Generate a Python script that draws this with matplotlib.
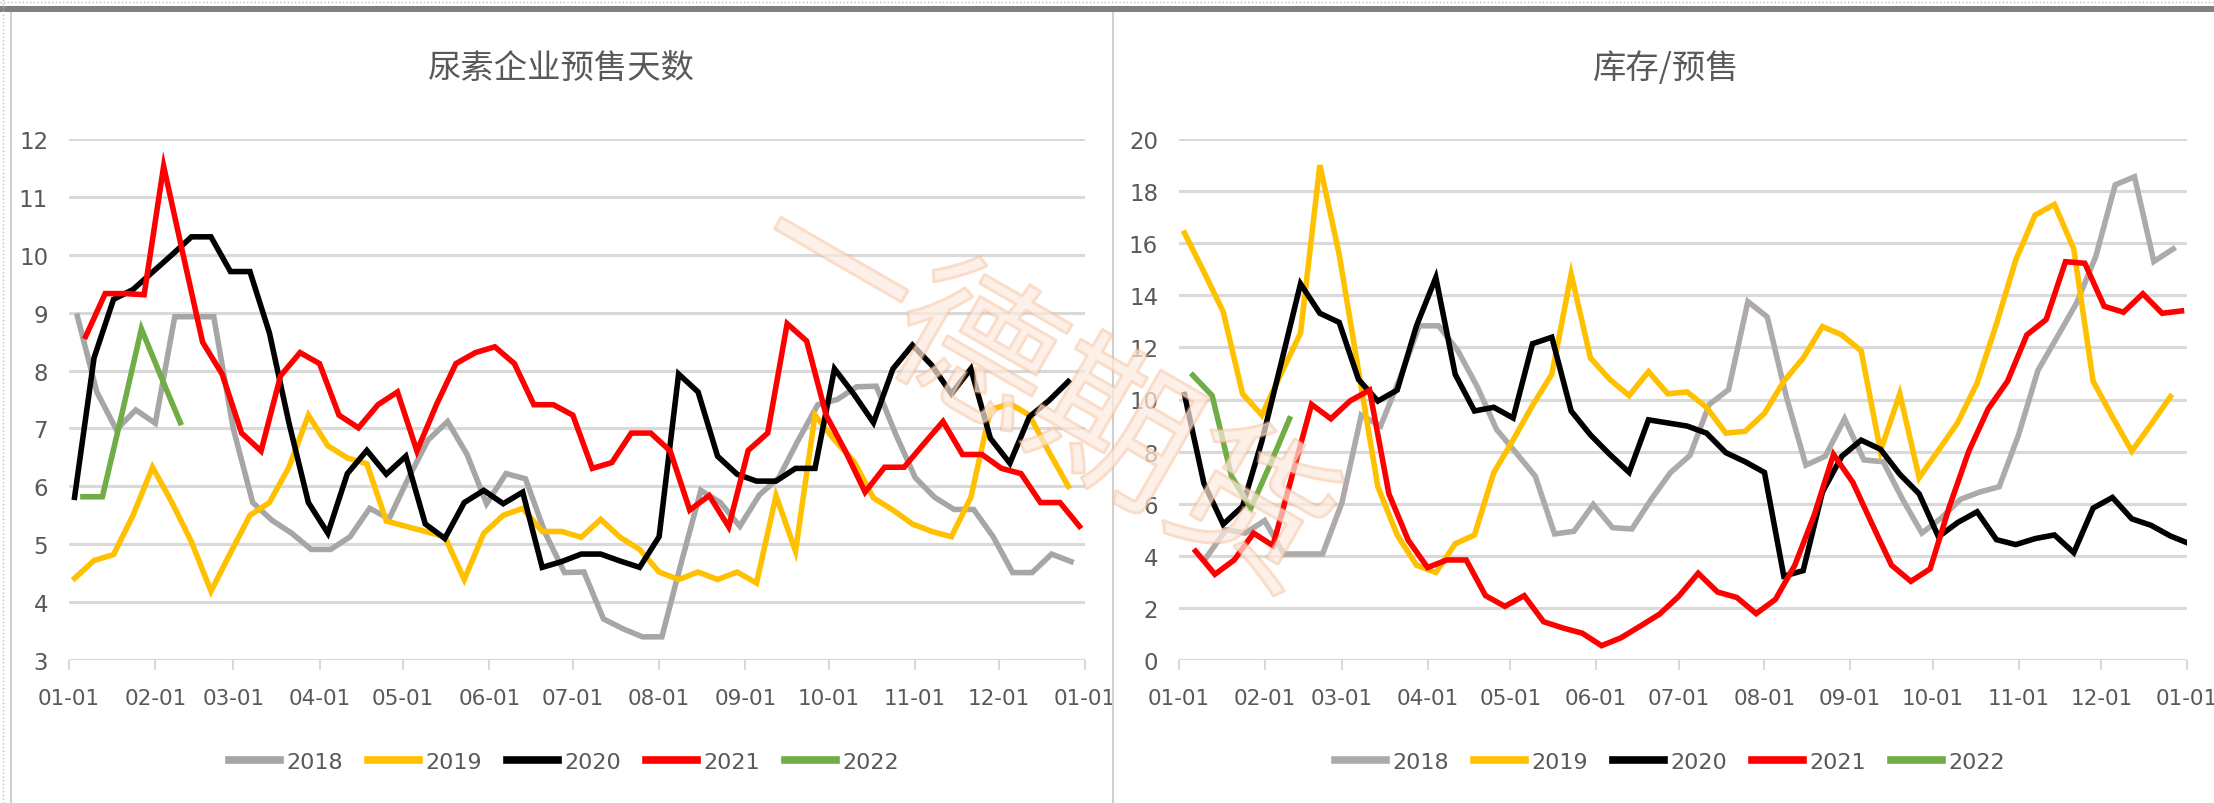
import matplotlib
matplotlib.use("Agg")
import matplotlib.pyplot as plt
from matplotlib import font_manager
from matplotlib.lines import Line2D
import matplotlib.patheffects as pe
import numpy as np
import pandas as pd

# fonts: narrow latin face if there is one, CJK for the titles/watermark
names = {f.name for f in font_manager.fontManager.ttflist}
LATIN = 'Liberation Sans Narrow' if 'Liberation Sans Narrow' in names else 'DejaVu Sans'
plt.rcParams['font.family'] = [LATIN, 'Noto Sans CJK SC', 'DejaVu Sans']

years = ['2018', '2019', '2020', '2021', '2022']
colors = {'2018': '#A6A6A6', '2019': '#FFC000', '2020': '#000000', '2021': '#FF0000', '2022': '#70AD47'}
month_ticks = ['01-01', '02-01', '03-01', '04-01', '05-01', '06-01', '07-01',
               '08-01', '09-01', '10-01', '11-01', '12-01', '01-01']
tick_days = [0, 31, 59, 90, 120, 151, 181, 212, 243, 273, 304, 334, 365]

# ---- left: 尿素企业预售天数 (weekly) ----
presale_start = {'2018': '2018-01-04', '2019': '2019-01-03', '2020': '2020-01-03',
                 '2021': '2021-01-07', '2022': '2022-01-06'}
presale_2018 = [8.94, 7.63, 6.98, 7.32, 7.09, 8.93, 8.93, 8.93, 7.0, 5.72, 5.41, 5.19, 4.91,
                4.91, 5.13, 5.62, 5.44, 6.15, 6.8, 7.12, 6.55, 5.7, 6.22, 6.13, 5.2, 4.51,
                4.52, 3.71, 3.54, 3.40, 3.40, 4.69, 5.93, 5.72, 5.31, 5.85, 6.15, 6.8, 7.41,
                7.5, 7.72, 7.73, 6.9, 6.15, 5.81, 5.6, 5.6, 5.13, 4.51, 4.51, 4.83, 4.70]
presale_2019 = [4.41, 4.72, 4.82, 5.5, 6.33, 5.72, 5.04, 4.19, 4.85, 5.5, 5.72, 6.33, 7.23,
                6.70, 6.49, 6.39, 5.4, 5.31, 5.22, 5.13, 4.39, 5.19, 5.5, 5.62, 5.22, 5.22,
                5.12, 5.43, 5.12, 4.91, 4.52, 4.39, 4.52, 4.39, 4.52, 4.33, 5.84, 4.88, 7.23,
                6.8, 6.43, 5.8, 5.59, 5.35, 5.22, 5.13, 5.81, 7.32, 7.43, 7.23, 6.6, 6.0]
presale_2020 = [5.81, 8.22, 9.23, 9.4, 9.7, 10.0, 10.31, 10.31, 9.71, 9.71, 8.65, 7.1, 5.72,
                5.19, 6.22, 6.62, 6.21, 6.52, 5.35, 5.1, 5.72, 5.93, 5.7, 5.9, 4.6, 4.7,
                4.83, 4.83, 4.71, 4.6, 5.13, 7.94, 7.63, 6.52, 6.21, 6.09, 6.09, 6.31, 6.31,
                8.03, 7.59, 7.1, 8.03, 8.44, 8.09, 7.6, 8.03, 6.83, 6.4, 7.2, 7.48, 7.81]
presale_2021 = [8.59, 9.33, 9.33, 9.31, 11.53, 10.0, 8.49, 7.94, 6.92, 6.61, 7.91, 8.31, 8.12,
                7.23, 7.01, 7.41, 7.63, 6.61, 7.41, 8.12, 8.31, 8.41, 8.12, 7.41, 7.41, 7.23,
                6.31, 6.41, 6.92, 6.92, 6.61, 5.59, 5.84, 5.30, 6.62, 6.92, 8.81, 8.51, 7.23,
                6.6, 5.90, 6.33, 6.33, 6.73, 7.12, 6.55, 6.55, 6.31, 6.22, 5.72, 5.72, 5.31]
presale_2022 = [5.82, 5.82, 7.25, 8.72, 7.9, 7.1]

# ---- right: 库存/预售 (weekly) ----
ratio_start = {'2018': '2018-01-11', '2019': '2019-01-03', '2020': '2020-01-03',
               '2021': '2021-01-07', '2022': '2022-01-06'}
ratio_2018 = [3.95, 5.0, 4.87, 5.35, 4.07, 4.07, 4.07, 6.04, 9.4, 8.98, 10.82, 12.83, 12.83,
              11.87, 10.49, 8.85, 7.96, 7.06, 4.84, 4.94, 5.97, 5.08, 5.03, 6.17, 7.2, 7.85,
              9.81, 10.38, 13.76, 13.17, 10.08, 7.48, 7.82, 9.26, 7.68, 7.61, 6.17, 4.87,
              5.45, 6.17, 6.45, 6.65, 8.64, 11.11, 12.4, 13.7, 15.5, 18.24, 18.55, 15.3, 15.78]
ratio_2019 = [16.39, 14.9, 13.37, 10.22, 9.4, 11.0, 12.55, 19.0, 15.57, 11.1, 6.65, 4.8, 3.64,
              3.36, 4.46, 4.8, 7.2, 8.45, 9.77, 10.97, 14.81, 11.59, 10.77, 10.15, 11.07,
              10.22, 10.29, 9.7, 8.71, 8.78, 9.47, 10.7, 11.59, 12.8, 12.48, 11.87, 8.02,
              10.22, 7.0, 8.05, 9.12, 10.63, 12.9, 15.36, 17.08, 17.49, 15.78, 10.7, 9.33,
              8.02, 9.05, 10.11]
ratio_2020 = [10.19, 6.79, 5.21, 5.9, 8.4, 11.4, 14.44, 13.31, 12.96, 10.77, 9.94, 10.36,
              12.83, 14.68, 10.97, 9.56, 9.7, 9.29, 12.14, 12.39, 9.56, 8.64, 7.89, 7.2,
              9.22, 9.1, 8.98, 8.71, 7.96, 7.61, 7.2, 3.22, 3.43, 6.45, 7.82, 8.44, 8.09,
              7.13, 6.38, 4.73, 5.28, 5.69, 4.62, 4.43, 4.66, 4.8, 4.12, 5.83, 6.24, 5.42,
              5.17, 4.76, 4.46]
ratio_2021 = [4.18, 3.29, 3.84, 4.87, 4.39, 7.09, 9.81, 9.26, 9.95, 10.36, 6.38, 4.6, 3.55,
              3.84, 3.84, 2.47, 2.06, 2.47, 1.47, 1.23, 1.03, 0.55, 0.85, 1.3, 1.76, 2.45,
              3.33, 2.61, 2.4, 1.78, 2.33, 3.64, 5.56, 7.89, 6.82, 5.21, 3.64, 3.02, 3.5,
              5.9, 8.02, 9.64, 10.7, 12.48, 13.07, 15.29, 15.23, 13.58, 13.35, 14.06, 13.31, 13.4]
ratio_2022 = [10.93, 10.15, 7.06, 5.83, 7.5, 9.26]

presale = dict(zip(years, [presale_2018, presale_2019, presale_2020, presale_2021, presale_2022]))
ratio = dict(zip(years, [ratio_2018, ratio_2019, ratio_2020, ratio_2021, ratio_2022]))


def day_of_year(start, n):
    d = pd.date_range(start, periods=n, freq='7D')
    return (d - pd.Timestamp(d[0].year, 1, 1)).days.values


W, H = 2214, 804
fig = plt.figure(figsize=(W / 100, H / 100), dpi=100)
fig.patch.set_facecolor('white')

TXT = '#595959'
GRID = '#D9D9D9'


def panel(rect, data, starts, ylim, ystep, title, title_x, legend_x, cmap):
    ax = fig.add_axes(rect)
    for y in years:
        v = data[y]
        ax.plot(day_of_year(starts[y], len(v)), v, color=cmap[y], lw=4.0,
                solid_joinstyle='miter', zorder=3)
    ax.set_xlim(0, 365)
    ax.set_ylim(*ylim)
    ax.set_yticks(np.arange(ylim[0], ylim[1] + 0.1, ystep))
    ax.set_xticks(tick_days)
    ax.set_xticklabels(month_ticks)
    for s in ax.spines.values():
        s.set_visible(False)
    ax.grid(axis='y', color=GRID, lw=2.2)
    ax.set_axisbelow(True)
    ax.tick_params(axis='y', length=0, pad=15, labelsize=16.5, labelcolor=TXT)
    ax.tick_params(axis='x', length=7, width=1.5, color=GRID, pad=13,
                   labelsize=15.5, labelcolor=TXT)
    fig.text(title_x, 1 - 68 / H, title, ha='center', va='center', fontsize=24,
             color=TXT, family=['Noto Sans CJK SC', 'DejaVu Sans'])
    handles = [Line2D([], [], color=cmap[y], lw=5.5) for y in years]
    fig.legend(handles, years, loc='center', bbox_to_anchor=(legend_x, 1 - 763 / H),
               ncol=5, frameon=False, fontsize=16, labelcolor=TXT,
               handlelength=2.3, handletextpad=0.3, columnspacing=1.1)
    return ax


cmap_l = dict(colors)
cmap_r = dict(colors)
cmap_r['2018'] = '#AEAAAA'

panel([69 / W, 1 - 661 / H, 1016 / W, 521 / H], presale, presale_start, (3, 12), 1,
      '尿素企业预售天数', 561 / W, 564 / W, cmap_l)
panel([1179 / W, 1 - 661 / H, 1008 / W, 521 / H], ratio, ratio_start, (0, 20), 2,
      '库存/预售', 1666 / W, 1670 / W, cmap_r)

# sheet frame: dark bar on top, panel edges, dotted cell guides
fig.add_artist(plt.Rectangle((0, 1 - 13 / H), 1, 6 / H, color='#808080', lw=0,
                             transform=fig.transFigure))
fig.add_artist(Line2D([0, 1], [1 - 3 / H] * 2, color='#BFBFBF', lw=1, ls=':',
                      transform=fig.transFigure))
fig.add_artist(Line2D([3 / W] * 2, [0, 1], color='#BFBFBF', lw=1, ls=':',
                      transform=fig.transFigure))
for xe in (11, 1113):
    fig.add_artist(Line2D([xe / W] * 2, [0, 1 - 14 / H], color='#D0D0D0', lw=1.5,
                          transform=fig.transFigure))

# watermark (faint embossed look)
fig.text(1040 / W, 1 - 395 / H, '一德期货', ha='center', va='center', rotation=-30,
         fontsize=115, color='#FCEBDF', alpha=0.45, zorder=10,
         family=['Noto Sans CJK SC'],
         path_effects=[pe.withStroke(linewidth=2.2, foreground='#F4B183')])

fig.savefig('out.png', dpi=100, facecolor='white')
